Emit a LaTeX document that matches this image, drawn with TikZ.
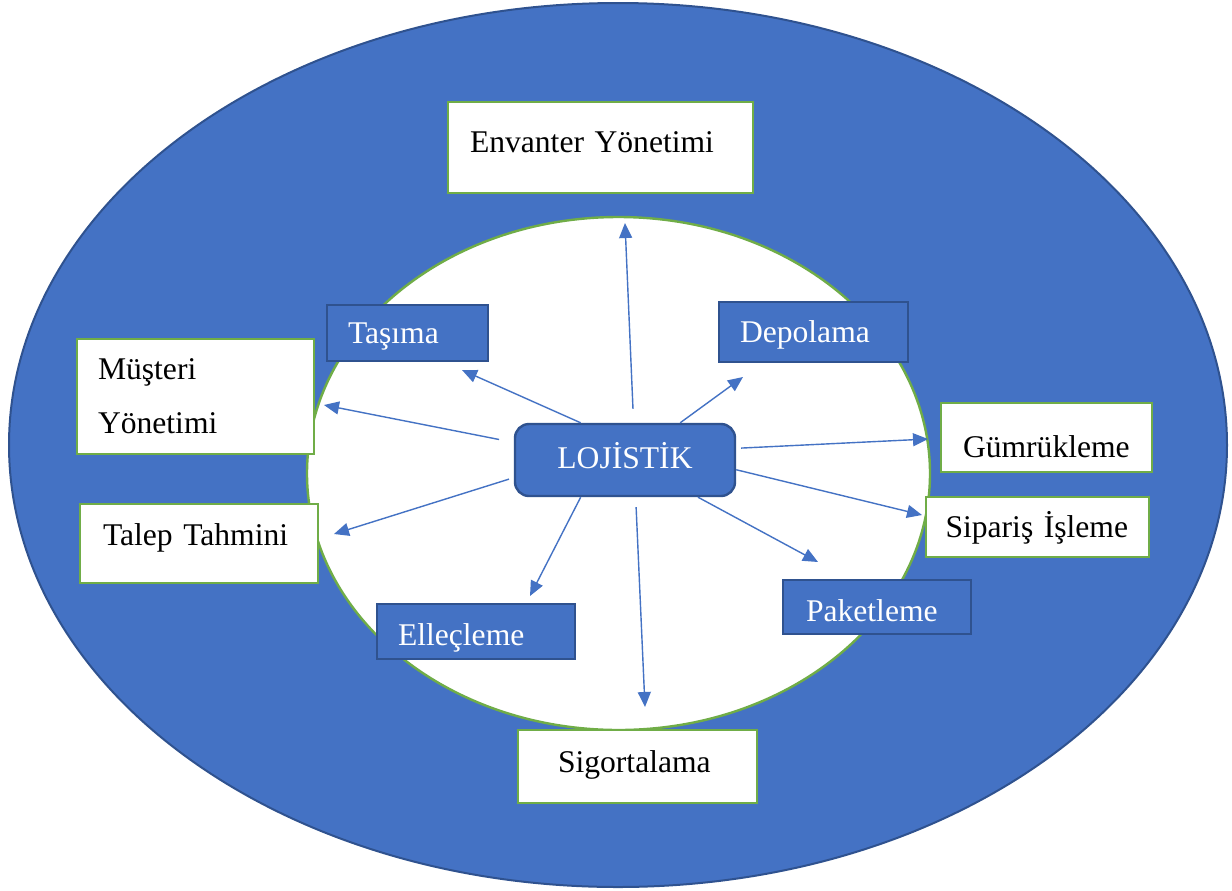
\documentclass[tikz,border=0pt]{standalone}
\usepackage{fontspec}
\setmainfont{Liberation Serif}
\usepackage{tikz}
\usetikzlibrary{arrows.meta}
\definecolor{fillblue}{RGB}{68,114,196}
\definecolor{edgeblue}{RGB}{47,82,143}
\definecolor{leafgreen}{RGB}{112,173,71}
\tikzset{
  wblk/.style ={draw=leafgreen, fill=white, line width=1.2pt, align=left, text=black,
                font=\fontsize{15.8}{27}\selectfont, inner ysep=0pt},
  bblk/.style ={draw=edgeblue, fill=fillblue, line width=1.2pt, align=left, text=white,
                font=\fontsize{15.8}{27}\selectfont, inner ysep=0pt},
  oneln/.style={text height=10.5pt, text depth=0pt},
  ar/.style   ={-{Triangle[length=7.5pt,width=6.5pt]}, draw=fillblue, line width=0.7pt},
}
\begin{document}
\begin{tikzpicture}[x=0.5pt,y=-0.5pt]
\useasboundingbox (0,0) rectangle (1232,890);

% outer and inner field
\draw[fill=fillblue, draw=edgeblue, line width=1pt] (618,445) ellipse [x radius=609, y radius=442];
\draw[fill=white, draw=leafgreen, line width=1.2pt] (618.5,473.5) ellipse [x radius=311.5, y radius=256.5];

% centre
\node[bblk, oneln, align=center, rounded corners=7pt, minimum width=110pt, minimum height=36pt,
      text depth=2pt] (lojistik) at (625,460) {LOJİSTİK};

% inner blue boxes
\node[bblk, oneln, text width=59.5pt, inner xsep=10.5pt, minimum height=28pt] (tasima) at (407.5,333) {Taşıma};
\node[bblk, oneln, text width=73.5pt, inner xsep=10.5pt, minimum height=30pt] (depolama) at (813.5,332) {Depolama};
\node[bblk, oneln, text height=13.5pt, text width=78pt, inner xsep=10.5pt, minimum height=27.5pt] (ellecleme) at (476,631.5) {Elleçleme};
\node[bblk, oneln, text height=14.5pt, text width=71pt, inner xsep=11.5pt, minimum height=27pt] (paketleme) at (877,607) {Paketleme};

% outer white boxes
\node[wblk, oneln, text depth=6pt, text width=130.5pt, inner xsep=11pt, minimum height=45.5pt] (envanter) at (600.5,147.5) {Envanter Yönetimi};
\node[wblk, text width=97.5pt, inner xsep=10.5pt, minimum height=57.5pt] (musteri) at (195.5,396.5) {Müşteri\\Yönetimi};
\node[wblk, oneln, text height=20pt, text width=83.5pt, inner xsep=11pt, minimum height=34.5pt] (gumruk) at (1046.5,437.5) {Gümrükleme};
\node[wblk, oneln, text width=92pt, inner xsep=9.75pt, minimum height=30pt] (siparis) at (1037.5,527) {Sipariş İşleme};
\node[wblk, oneln, text depth=8.5pt, text width=96pt, inner xsep=11.5pt, minimum height=39.5pt] (talep) at (199,543.5) {Talep Tahmini};
\node[wblk, oneln, text depth=4.5pt, text width=79.5pt, inner xsep=20pt, minimum height=36.5pt] (sigorta) at (637.5,766.5) {Sigortalama};

% arrow tips
\coordinate (tEnv) at (625,223);
\coordinate (tTas) at (462,370);
\coordinate (tDep) at (743,377);
\coordinate (tMus) at (324,405);
\coordinate (tGum) at (928,439);
\coordinate (tSip) at (922,515);
\coordinate (tTal) at (334,534);
\coordinate (tEll) at (530,596);
\coordinate (tSig) at (645,707);
\coordinate (tPak) at (818,562);

% arrows out of the centre
\draw[ar, shorten <=7pt] (lojistik.77.5) -- (tEnv);
\draw[ar] (lojistik.140.4) -- (tTas);
\draw[ar] (lojistik.34.7) -- (tDep);
\draw[ar, shorten <=7.5pt] (lojistik.171) -- (tMus);
\draw[ar, shorten <=2.5pt] (lojistik.6) -- (tGum);
\draw[ar] (lojistik.355) -- (tSip);
\draw[ar, shorten <=2.5pt] (lojistik.189.5) -- (tTal);
\draw[ar] (lojistik.220) -- (tEll);
\draw[ar, shorten <=5pt] (lojistik.286) -- (tSig);
\draw[ar] (lojistik.333.4) -- (tPak);
\end{tikzpicture}
\end{document}
